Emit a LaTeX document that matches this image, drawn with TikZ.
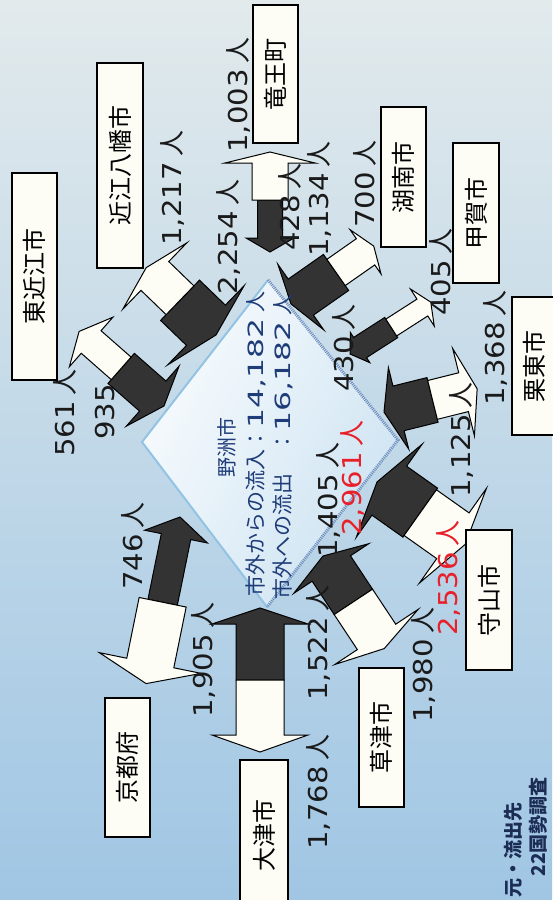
\documentclass[tikz,border=0pt]{standalone}
\usepackage{fontspec}
\usetikzlibrary{shadings}
\setmainfont{Noto Sans CJK JP}
\newfontfamily\numf{DejaVu Sans}
\definecolor{bgtop}{HTML}{E2EAEC}
\definecolor{bgmid}{HTML}{C4DAEB}
\definecolor{bgbot}{HTML}{A0C6E4}
\definecolor{navy}{HTML}{1E3C78}
\definecolor{darkfill}{HTML}{333333}
\definecolor{boxfill}{HTML}{FDFDF6}
\definecolor{redlab}{HTML}{E8202A}
\definecolor{edgelight}{HTML}{93C3E3}
\definecolor{edgedark}{HTML}{6F8FBF}
\definecolor{footcol}{HTML}{1C2D55}
\definecolor{labcol}{HTML}{1A1A1A}

\pgfkeys{/flow/.cd, L/.store in=\fL, s/.store in=\fS, ld/.store in=\fLd,
  hd/.store in=\fHd, wd/.store in=\fWd, lw/.store in=\fLw, hw/.store in=\fHw, ww/.store in=\fWw}
\newcommand\flow[3]{%
  \pgfkeys{/flow/.cd, L=100, s=50, ld=15, hd=40, wd=20, lw=14, hw=45, ww=20, #3}%
  \begin{scope}[shift={#1}, rotate=#2]
    \filldraw[darkarrow] (0,0) -- (\fLd,\fHd) -- (\fLd,\fWd) -- (\fS,\fWd) -- (\fS,-\fWd) -- (\fLd,-\fWd) -- (\fLd,-\fHd) -- cycle;
    \filldraw[whitearrow] (\fS,\fWw) -- ({\fL-\fLw},\fWw) -- ({\fL-\fLw},\fHw) -- (\fL,0) -- ({\fL-\fLw},-\fHw) -- ({\fL-\fLw},-\fWw) -- (\fS,-\fWw) -- cycle;
  \end{scope}}
\newcommand\nm[1]{{\numf\scalebox{1.12}[1]{#1}}\hspace{0.22em}人}
\newcommand\cnm[1]{{\numf\scalebox{1.5}[1]{#1}}\hspace{0.3em}人}

\tikzset{
  darkarrow/.style={fill=darkfill, draw=black, line width=1pt, line join=miter},
  whitearrow/.style={fill=boxfill, draw=black, line width=1pt, line join=miter},
  cbox/.style={draw=black, line width=1.3pt, fill=boxfill, rotate=90, inner sep=0pt,
    font=\fontsize{24}{24}\selectfont},
  lab/.style={rotate=90, inner sep=0pt, text=labcol, font=\fontsize{26}{26}\selectfont},
  redl/.style={lab, text=redlab},
  ctext/.style={rotate=90, inner sep=0pt, text=navy, font=\fontsize{21}{21}\selectfont},
  foot/.style={rotate=90, inner sep=0pt, text=footcol, font=\fontsize{19}{19}\selectfont\bfseries, anchor=east}
}

\begin{document}
\begin{tikzpicture}[x=1pt,y=1pt]
\useasboundingbox (0,-900) rectangle (552,0);
\shade[top color=bgtop, middle color=bgmid, bottom color=bgbot] (0,-900) rectangle (552,0);

% central diamond
\coordinate (dl) at (142,-442);
\coordinate (dt) at (268,-280);
\coordinate (dr) at (398,-440);
\coordinate (db) at (267,-607);
\shade[upper left=white, upper right=white!70!edgelight, lower left=white!80!edgelight, lower right=white!45!edgelight]
  (dl) -- (dt) -- (dr) -- (db) -- cycle;
\draw[edgelight, line width=2pt, line join=miter] (db) -- (dl) -- (dt);
\draw[edgedark, line width=3pt, dash pattern=on 1pt off 1pt, line join=miter] (dt) -- (dr) -- (db);

% flow arrows (dark: into Yasu, white: out of Yasu)
\flow{(270,-252)}{90}{L=100, s=52, ld=14, hd=24, wd=12.5, ww=18, lw=11, hw=45}
\flow{(216,-335)}{136}{L=97, s=50, ld=14, hd=55, wd=28, ww=20, lw=12, hw=46}
\flow{(164,-406)}{138.7}{L=113, s=57, ld=15, hd=40, wd=20, ww=15, lw=16, hw=33}
\flow{(180,-517)}{258.5}{L=170, s=87, ld=20, hd=32, wd=15, ww=24, lw=21, hw=52}
\flow{(260,-608)}{270}{L=144, s=72, ld=16, hd=48, wd=24, ww=24, lw=17, hw=48}
\flow{(323,-556)}{-56.5}{L=111, s=55, ld=15, hd=45, wd=23, ww=23, lw=14, hw=50}
\flow{(377,-482)}{-35.3}{L=108, s=53, ld=15, hd=57, wd=30, ww=28, lw=15, hw=58}
\flow{(384,-412)}{14}{L=96, s=50, ld=15, hd=42, wd=23, ww=20, lw=14, hw=45}
\flow{(350,-354)}{32.7}{L=96, s=49, ld=12, hd=18, wd=12, ww=10, lw=10, hw=22}
\flow{(291,-304)}{35}{L=101, s=55, ld=12, hd=40, wd=22, ww=16, lw=10, hw=27}

% centre text
\node[ctext, font=\fontsize{20}{20}\selectfont] (yasu) at (227,-447) {野洲市};
\node[ctext, anchor=west] (inflow) at (256,-597) {市外からの流入：\cnm{14,182}};
\node[ctext, anchor=west] (outflow) at (283,-600) {市外への流出　：\cnm{16,182}};

% city boxes
\node[cbox, minimum width=138pt, minimum height=45pt] (ryuo) at (275.5,-74) {竜王町};
\node[cbox, minimum width=205pt, minimum height=46pt] (hachiman) at (120,-165.5) {近江八幡市};
\node[cbox, minimum width=207pt, minimum height=45pt] (higashiomi) at (34.5,-276.5) {東近江市};
\node[cbox, minimum width=140pt, minimum height=45pt] (konan) at (403.5,-177) {湖南市};
\node[cbox, minimum width=140pt, minimum height=46pt] (koka) at (476,-213) {甲賀市};
\node[cbox, minimum width=138pt, minimum height=44pt] (ritto) at (534,-366) {栗東市};
\node[cbox, minimum width=140pt, minimum height=46pt] (moriyama) at (489,-600) {守山市};
\node[cbox, minimum width=139pt, minimum height=45pt] (kusatsu) at (381.5,-737.5) {草津市};
\node[cbox, minimum width=150pt, minimum height=48pt] (otsu) at (264,-835) {大津市};
\node[cbox, minimum width=139pt, minimum height=45pt] (kyoto) at (127.5,-767.5) {京都府};

% flow labels
\node[lab] (l1) at (238,-95) {\nm{1,003}};
\node[lab] (l2) at (172,-188) {\nm{1,217}};
\node[lab] (l3) at (228,-237) {\nm{2,254}};
\node[lab] (l4) at (290,-207) {\nm{428}};
\node[lab] (l5) at (319,-199) {\nm{1,134}};
\node[lab] (l6) at (365,-184) {\nm{700}};
\node[lab] (l7) at (441,-272) {\nm{405}};
\node[lab] (l8) at (344,-348) {\nm{430}};
\node[lab] (l9) at (495,-348) {\nm{1,368}};
\node[lab] (l10) at (461,-440) {\nm{1,125}};
\node[lab] (l11) at (328,-500) {\nm{1,405}};
\node[redl] (l12) at (352,-478) {\nm{2,961}};
\node[redl] (l13) at (448,-578) {\nm{2,536}};
\node[lab] (l14) at (318,-643) {\nm{1,522}};
\node[lab] (l15) at (423,-665) {\nm{1,980}};
\node[lab] (l16) at (318,-792) {\nm{1,768}};
\node[lab] (l17) at (203,-660) {\nm{1,905}};
\node[lab] (l18) at (133,-546) {\nm{746}};
\node[lab] (l19) at (65,-413) {\nm{561}};
\node[lab] (l20) at (105,-412) {{\numf\scalebox{1.12}[1]{935}}};

% source note
\node[foot] (src1) at (513,-802) {元・流出先};
\node[foot] (src2) at (538,-777) {22国勢調査};
\end{tikzpicture}
\end{document}
